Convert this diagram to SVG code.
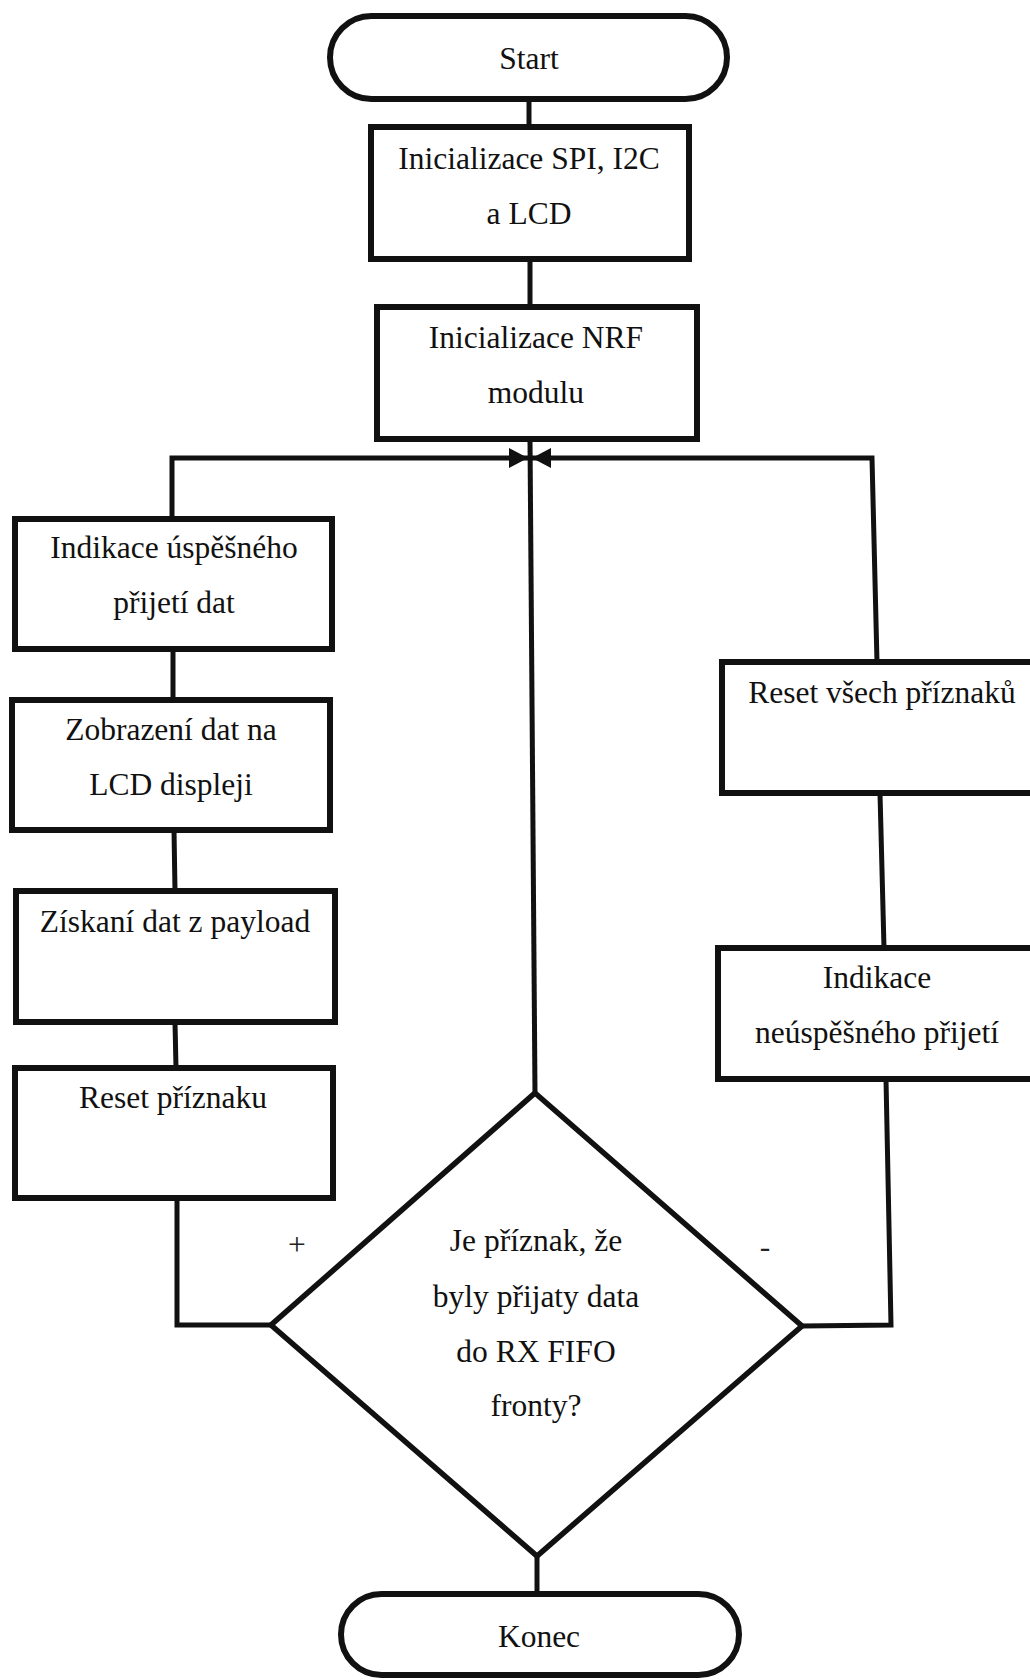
<svg xmlns="http://www.w3.org/2000/svg" width="1030" height="1680" viewBox="0 0 1030 1680">
  <style>
    .shape { fill: #ffffff; stroke: #111111; stroke-width: 6; }
    .diamond { fill: none; stroke: #111111; stroke-width: 5.5; stroke-linejoin: miter; }
    .wire { fill: none; stroke: #111111; stroke-width: 5; stroke-linejoin: miter; }
    .label { font-family: "Liberation Serif", "Times New Roman", serif; font-size: 31.5px; fill: #111111; text-anchor: middle; }
    .sign { font-family: "Liberation Serif", "Times New Roman", serif; font-size: 31.5px; fill: #222222; text-anchor: middle; }
  </style>
  <defs>
    <marker id="arrow" viewBox="0 0 20 20" refX="19" refY="10" markerWidth="20" markerHeight="20" markerUnits="userSpaceOnUse" orient="auto">
      <path d="M0,0 L19,10 L0,20 Z" fill="#111111"/>
    </marker>
  </defs>

  <rect width="1030" height="1680" fill="#ffffff"/>

  <!-- connectors -->
  <g id="connectors">
    <path class="wire" d="M529,102 L529,127"/>
    <path class="wire" d="M530,259 L530,307"/>
    <path class="wire" d="M530,440 L535,1094"/>
    <!-- loop back on the left branch -->
    <path class="wire" d="M172,519 L172,458 L528,458" marker-end="url(#arrow)"/>
    <!-- loop back on the right branch -->
    <path class="wire" d="M877,662 L872,458 L532,458" marker-end="url(#arrow)"/>
    <path class="wire" d="M173,649 L173,700"/>
    <path class="wire" d="M174,830 L175,891"/>
    <path class="wire" d="M175,1022 L176,1068"/>
    <path class="wire" d="M177,1198 L177,1325 L271,1325"/>
    <path class="wire" d="M802,1326 L891,1325 L886,1079"/>
    <path class="wire" d="M884,948 L880,793"/>
    <path class="wire" d="M537,1555 L537,1594"/>
  </g>

  <!-- start / end terminals -->
  <g id="start">
    <rect class="shape" x="330" y="16" width="397" height="83" rx="41.5" ry="41.5"/>
    <text class="label" x="529" y="69">Start</text>
  </g>

  <g id="init-bus">
    <rect class="shape" x="371" y="127" width="318" height="132"/>
    <text class="label" x="529" y="169">Inicializace SPI, I2C</text>
    <text class="label" x="529" y="224">a LCD</text>
  </g>

  <g id="init-nrf">
    <rect class="shape" x="377" y="307" width="320" height="132"/>
    <text class="label" x="536" y="348">Inicializace NRF</text>
    <text class="label" x="536" y="403">modulu</text>
  </g>

  <!-- left branch: data received -->
  <g id="ok-indication">
    <rect class="shape" x="15" y="519" width="317" height="130"/>
    <text class="label" x="174" y="558">Indikace úspěšného</text>
    <text class="label" x="174" y="613">přijetí dat</text>
  </g>

  <g id="show-data">
    <rect class="shape" x="12" y="700" width="318" height="130"/>
    <text class="label" x="171" y="740">Zobrazení dat na</text>
    <text class="label" x="171" y="795">LCD displeji</text>
  </g>

  <g id="read-payload">
    <rect class="shape" x="16" y="891" width="319" height="131"/>
    <text class="label" x="175" y="932">Získaní dat z payload</text>
  </g>

  <g id="reset-flag">
    <rect class="shape" x="15" y="1068" width="318" height="130"/>
    <text class="label" x="173" y="1108">Reset příznaku</text>
  </g>

  <!-- right branch: nothing received -->
  <g id="reset-all">
    <rect class="shape" x="722" y="662" width="330" height="131"/>
    <text class="label" x="882" y="703">Reset všech příznaků</text>
  </g>

  <g id="fail-indication">
    <rect class="shape" x="718" y="948" width="330" height="131"/>
    <text class="label" x="877" y="988">Indikace</text>
    <text class="label" x="877" y="1043">neúspěšného přijetí</text>
  </g>

  <!-- decision -->
  <g id="decision">
    <path class="diamond" d="M535,1093 L802,1326 L537,1556 L271,1325 Z"/>
    <text class="label" x="536" y="1251">Je příznak, že</text>
    <text class="label" x="536" y="1307">byly přijaty data</text>
    <text class="label" x="536" y="1362">do RX FIFO</text>
    <text class="label" x="536" y="1416">fronty?</text>
  </g>

  <g id="branch-labels">
    <text class="sign" x="297" y="1255">+</text>
    <text class="sign" x="765" y="1257">-</text>
  </g>

  <g id="end">
    <rect class="shape" x="341" y="1594" width="398" height="81" rx="40.5" ry="40.5"/>
    <text class="label" x="539" y="1647">Konec</text>
  </g>
</svg>
